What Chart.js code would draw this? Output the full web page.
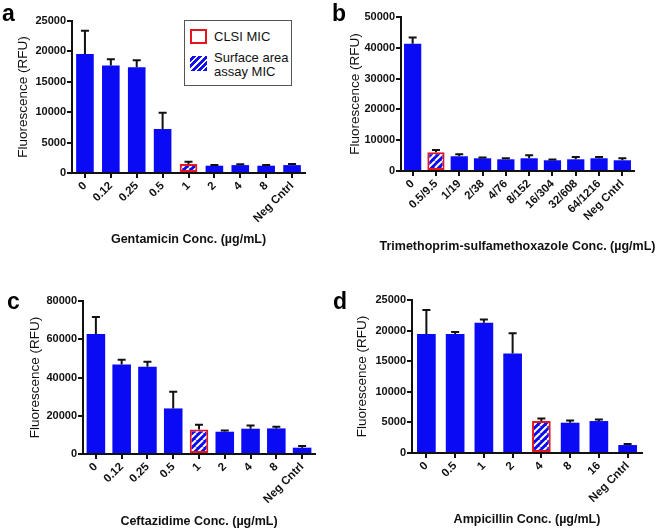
<!DOCTYPE html>
<html>
<head>
<meta charset="utf-8">
<script src="https://cdn.jsdelivr.net/npm/chart.js@4.4.1/dist/chart.umd.min.js"></script>
<style>
  body { margin: 0; background: #fff; font-family: "Liberation Sans", Arial, sans-serif; }
  #page { position: relative; width: 660px; height: 530px; }
  .panel { position: absolute; }
  .letter { position: absolute; font-weight: bold; font-size: 23px; line-height: 22px; color: #000; }
  #legend { position: absolute; left: 184px; top: 20px; width: 106px; height: 64px; border: 1px solid #555; background: #fff; font-size: 13px; color: #111; }
  .swatch { position: absolute; left: 5px; width: 17px; height: 15px; box-sizing: border-box; }
  .lbl { position: absolute; left: 29px; line-height: 14px; }
</style>
</head>
<body>
<div id="page">
  <canvas id="chartA" class="panel" width="330" height="265" style="left:0;top:0"></canvas>
  <canvas id="chartB" class="panel" width="330" height="265" style="left:330px;top:0"></canvas>
  <canvas id="chartC" class="panel" width="330" height="265" style="left:0;top:265px"></canvas>
  <canvas id="chartD" class="panel" width="330" height="265" style="left:330px;top:265px"></canvas>
  <div class="letter" style="left:2px;top:2px">a</div>
  <div class="letter" style="left:332px;top:2px">b</div>
  <div class="letter" style="left:7px;top:290px">c</div>
  <div class="letter" style="left:333px;top:290px">d</div>
  <div id="legend">
    <div class="swatch" style="top:8px;border:2px solid #e8141b"></div>
    <div class="lbl" style="top:9px">CLSI MIC</div>
    <div class="swatch" style="top:35px;background:repeating-linear-gradient(-45deg,#1010f0 0 3px,#fff 3px 4.5px)"></div>
    <div class="lbl" style="top:30px">Surface area<br>assay MIC</div>
  </div>
</div>
<script>
// ---- data ----
const gentLabels = ["0", "0.12", "0.25", "0.5", "1", "2", "4", "8", "Neg Cntrl"];
const gentMeans = [19570, 17700, 17380, 7240, 1480, 1200, 1300, 1200, 1300];
const gentErrors = [3840, 1000, 1150, 2680, 380, 100, 120, 100, 180];
const gentMic = 4;

const tmpLabels = ["0", "0.5/9.5", "1/19", "2/38", "4/76", "8/152", "16/304", "32/608", "64/1216", "Neg Cntrl"];
const tmpMeans = [41300, 6090, 4780, 4130, 3800, 4130, 3480, 3800, 4130, 3480];
const tmpErrors = [2070, 760, 650, 220, 330, 970, 220, 770, 440, 650];
const tmpMic = 1;

const cazLabels = ["0", "0.12", "0.25", "0.5", "1", "2", "4", "8", "Neg Cntrl"];
const cazMeans = [62780, 46780, 45570, 23830, 12870, 11650, 13220, 13390, 3300];
const cazErrors = [8870, 2440, 2600, 8690, 2430, 700, 1740, 870, 870];
const cazMic = 4;

const ampLabels = ["0", "0.5", "1", "2", "4", "8", "16", "Neg Cntrl"];
const ampMeans = [19460, 19460, 21300, 16250, 5220, 4950, 5220, 1300];
const ampErrors = [3910, 320, 500, 3320, 430, 380, 270, 170];
const ampMic = 4;

const BLUE = "#0a0af5";
const RED = "#e8141b";

function hatchPattern() {
  const c = document.createElement("canvas");
  c.width = 7;
  c.height = 7;
  const g = c.getContext("2d");
  g.fillStyle = BLUE;
  g.fillRect(0, 0, 7, 7);
  g.strokeStyle = "#fff";
  g.lineWidth = 2;
  for (const k of [-7, 0, 7]) {
    g.beginPath();
    g.moveTo(k, 7);
    g.lineTo(k + 7, 0);
    g.stroke();
  }
  return g.createPattern(c, "repeat");
}

// draws the upper error bar with a cap on each bar
const errorBars = {
  id: "errorBars",
  afterDatasetsDraw(chart) {
    const ctx = chart.ctx;
    const yScale = chart.scales.y;
    const ds = chart.data.datasets[0];
    const meta = chart.getDatasetMeta(0);
    ctx.save();
    ctx.strokeStyle = "#111";
    ctx.lineWidth = 2;
    meta.data.forEach((bar, i) => {
      const top = yScale.getPixelForValue(ds.data[i] + ds.errors[i]);
      ctx.beginPath();
      ctx.moveTo(bar.x, bar.y);
      ctx.lineTo(bar.x, top);
      ctx.moveTo(bar.x - 4, top);
      ctx.lineTo(bar.x + 4, top);
      ctx.stroke();
    });
    ctx.restore();
  },
};

// x axis caption, drawn without the width limit of the scale title
const xCaption = {
  id: "xCaption",
  afterDraw(chart, args, opts) {
    const ctx = chart.ctx;
    const area = chart.chartArea;
    ctx.save();
    ctx.font = "bold 12.5px 'Liberation Sans'";
    ctx.fillStyle = "#111";
    ctx.textAlign = "center";
    ctx.textBaseline = "middle";
    ctx.fillText(opts.text, (area.left + area.right) / 2, opts.y);
    ctx.restore();
  },
};

function makePanel(id, labels, means, errors, mic, yMax, yStep, xTitle, box) {
  const fills = means.map((v, i) => (i === mic ? hatchPattern() : BLUE));
  new Chart(document.getElementById(id), {
    type: "bar",
    data: {
      labels: labels,
      datasets: [
        {
          data: means,
          errors: errors,
          backgroundColor: fills,
          borderColor: means.map((v, i) => (i === mic ? RED : BLUE)),
          borderWidth: means.map((v, i) => (i === mic ? 2 : 0)),
          borderSkipped: false,
          barPercentage: box.bar,
          categoryPercentage: 1,
        },
      ],
    },
    options: {
      responsive: false,
      animation: false,
      events: [],
      layout: { padding: { left: 0, right: box.right, top: box.top, bottom: 0 } },
      plugins: {
        legend: { display: false },
        tooltip: { enabled: false },
        xCaption: { text: xTitle, y: box.ty },
      },
      scales: {
        x: {
          afterFit: (s) => { s.height = box.xh; },
          grid: { display: true, drawOnChartArea: false, offset: false, color: "#111", lineWidth: 2, tickLength: 5 },
          border: { display: true, color: "#111", width: 2 },
          ticks: {
            color: "#111",
            font: { family: "Liberation Sans", size: 11.5, weight: "bold" },
            minRotation: 45,
            maxRotation: 45,
            padding: 1,
            autoSkip: false,
          },
        },
        y: {
          min: 0,
          max: yMax,
          afterFit: (s) => { s.width = box.left; },
          grid: { display: true, drawOnChartArea: false, color: "#111", lineWidth: 2, tickLength: 5 },
          border: { display: true, color: "#111", width: 2 },
          ticks: {
            stepSize: yStep,
            color: "#111",
            font: { family: "Liberation Sans", size: 11, weight: "bold" },
            padding: 1,
            callback: (v) => String(v),
          },
          title: {
            display: true,
            text: "Fluorescence (RFU)",
            color: "#111",
            font: { family: "Liberation Sans", size: 13.5 },
            padding: { top: box.ytp, bottom: 0 },
          },
        },
      },
    },
    plugins: [errorBars, xCaption],
  });
}

makePanel("chartA", gentLabels, gentMeans, gentErrors, gentMic, 25000, 5000,
  "Gentamicin Conc. (\u00b5g/mL)", { left: 72, right: 25, top: 21, xh: 92, bar: 0.68, ty: 240, ytp: 15 });
makePanel("chartB", tmpLabels, tmpMeans, tmpErrors, tmpMic, 50000, 10000,
  "Trimethoprim-sulfamethoxazole Conc. (\u00b5g/mL)", { left: 71, right: 26, top: 17, xh: 94, bar: 0.74, ty: 247, ytp: 17 });
makePanel("chartC", cazLabels, cazMeans, cazErrors, cazMic, 80000, 20000,
  "Ceftazidime Conc. (\u00b5g/mL)", { left: 83, right: 15, top: 36, xh: 76, bar: 0.72, ty: 257, ytp: 27 });
makePanel("chartD", ampLabels, ampMeans, ampErrors, ampMic, 25000, 5000,
  "Ampicillin Conc. (\u00b5g/mL)", { left: 82, right: 18, top: 35, xh: 77, bar: 0.65, ty: 255, ytp: 24 });
</script>
</body>
</html>
